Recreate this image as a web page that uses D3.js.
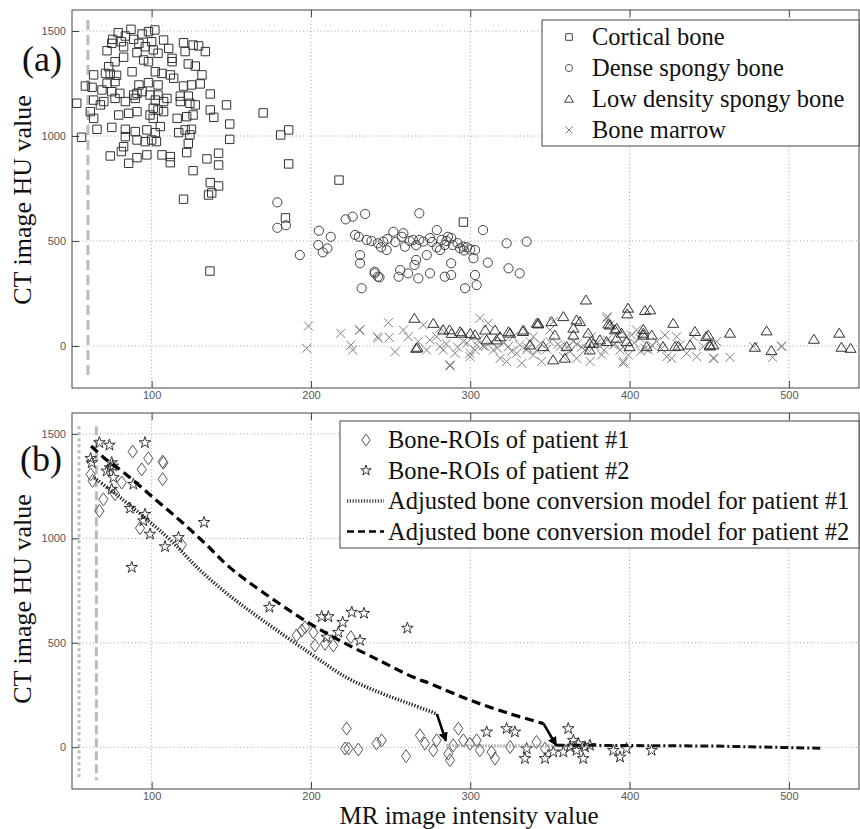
<!DOCTYPE html>
<meta charset="utf-8">
<style>
body { margin: 0; background: #fff; }
svg { display: block; background: #fff; }
.tick text { font-family: "Liberation Sans", Arial, sans-serif; font-size: 11px; fill: #555; }
.tick line { stroke: #444; }
.grid line { stroke: #999; stroke-dasharray: 1,2.5; stroke-width: 0.9; }
.frame { fill: none; stroke: #444; stroke-width: 1; }
.title { font-family: "Liberation Serif", "Times New Roman", serif; font-size: 26px; fill: #111; }
.legend text { font-family: "Liberation Serif", "Times New Roman", serif; font-size: 24.5px; fill: #111; }
</style>
<svg width="860" height="829"></svg>
<script src="https://d3js.org/d3.v7.min.js"></script>
<script>

// ---- data: [MR intensity, CT HU] ----
var cortical = [
  [79,1492],[87,1508],[102,1505],[75.5,1460],[83.5,1476],[94,1486],[98,1497],[107.5,1457],[75,1441],[81,1449],
  [88.7,1460],[92,1441],[100,1449],[120,1444],[126,1433],[129.5,1429],[133.7,1402],[72,1406],[82.4,1425],[90.8,1397],
  [96,1425],[101,1410],[104,1394],[110.7,1417],[112.8,1370],[121,1402],[77,1354],[82.4,1375],[95,1362],[98,1354],
  [112.8,1354],[123,1343],[127.4,1333],[73,1330],[87.7,1306],[102.3,1306],[106.5,1298],[111.7,1291],[113.8,1275],[131.6,1291],
  [63.6,1291],[71,1298],[74,1295],[78,1289],[58.4,1238],[62.6,1232],[72,1251],[77,1259],[92,1243],[98,1254],
  [104,1243],[120,1238],[125,1243],[130.5,1248],[68.8,1219],[75,1211],[80,1203],[88.7,1195],[90.8,1203],[94,1211],
  [99,1195],[104,1195],[109.6,1179],[118,1190],[123,1190],[136.8,1200],[53,1156],[63.6,1171],[70,1164],[77,1179],
  [83.5,1164],[89.7,1179],[102.3,1171],[107.5,1164],[118,1164],[124,1156],[127.4,1148],[147,1148],[61.5,1116],[67.8,1148],
  [79.3,1100],[85.6,1108],[90.8,1116],[101,1132],[104,1124],[107.5,1116],[122,1092],[126,1100],[136.8,1124],[139,1089],
  [63.6,1084],[99,1100],[101,1084],[116,1084],[149,1057],[65.7,1032],[75,1041],[83.5,1032],[89.7,1021],[97,1029],
  [102.3,1016],[105.4,1045],[117,1016],[121,1029],[124,1005],[125,1032],[56,994],[83.5,997],[90.8,981],[96,973],
  [100,981],[103,973],[123,965],[149,984],[82.4,949],[106.5,910],[111.7,902],[111.7,873],[74,905],[81,926],
  [90.8,897],[97,910],[122,921],[134.7,891],[142,918],[142,862],[85.6,870],[126,835],[136.8,778],[142,762],
  [135.7,719],[137.7,729],[120,699],[170,1110],[181,1005],[186,1029],[186,867],[217.6,790],[184,610],[136.6,357],
  [295.7,590]
];

var denseSpongy = [
  [178.9,684],[178.9,563],[184.3,575],[193,433],[205,549],[204.6,481],[207.4,446],[210.3,465],[212.4,520],[221.8,603],
  [226.2,616],[234,629],[230.8,433],[230.8,394],[231.8,275],[240,354],[242,330],[247.5,457],[251.7,544],[256,362],
  [255,330],[261,346],[268,632],[267.4,322],[266,410],[265,386],[272.7,433],[259,473],[258,537],[264,505],
  [270.5,497],[242,489],[245.4,497],[235,505],[227.7,529],[279,552],[274.7,514],[282,505],[288,514],[289,481],
  [293.6,465],[295.6,473],[300,460],[303,457],[302,418],[308,552],[322.8,489],[335.4,497],[311,397],[324,370],
  [331,346],[274.7,346],[284,330],[288,338],[288,394],[296.7,275],[304,290],[303,338],[281,457],[284,481],
  [240,346],[243,327],[238,500],[248,510],[253,495],[262,500],[268,505],[276,495],[285,500],[292,490],
  [298,470],[296,455],[230,520],[244,470],[257,520],[266,480],[279,470],[286,520]
];

var lowDensity = [
  [372.6,219],[399,180],[398.5,153],[409.6,169],[413,172],[427.4,108],[441,69],[463,61],[486,72],[515.7,32],
  [531.6,61],[533,-6],[538.7,-11],[478.7,-6],[489,-22],[450.4,0],[448,45],[428.5,-3],[421,-3],[408.6,61],
  [395,61],[390.8,77],[387.7,100],[366.7,124],[358.4,140],[351,116],[342.7,108],[333,69],[325,61],[316.5,29],
  [303,53],[294.6,61],[287,77],[276.8,108],[377.2,13],[375,-19],[400,-3],[410.7,-3],[352,-66],[359.4,-58],
  [364.7,85],[374,61],[264.9,132],[266,-11],[266.8,-6],[283,76],[288.3,60],[293.6,68],[300,60],[309.3,76],
  [315.5,76],[324,68],[333.3,76],[341.7,108],[318.7,44],[310.3,29],[342.7,105],[368.9,116],[364.7,52],[386.7,105],
  [391.9,84],[408.6,79],[408.6,52],[413.9,52],[449.4,52],[450.5,5],[430.6,0],[375,13],[398.2,21],[353,52],
  [360.5,-3],[381.4,29],[385.6,21],[391.9,37],[438,5],[452.6,5],[337.5,5],[345.9,-3]
];

var marrow = [
  [198.4,95],[197.3,-11],[218.7,60],[230.4,76],[225,4],[226.2,-19],[230.8,76],[248.6,111],[241.7,44],[242.3,37],
  [249.2,41],[258,76],[261.1,44],[252.8,-27],[270.5,100],[267.4,21],[274.7,29],[281,-3],[283.1,-19],[287.3,-90],
  [290.4,-35],[295.7,21],[299.8,-35],[304,5],[306.1,132],[311.3,108],[314.5,-19],[318.7,-59],[322.8,-74],[327,44],
  [332.3,-82],[335.4,-19],[339.6,-43],[305.1,29],[309.3,-3],[313.4,21],[299.8,-51],[323.9,-3],[329.1,-35],[337.5,21],
  [278.9,44],[272.6,-19],[281,84],[339.6,44],[341.7,-19],[344.8,-74],[350,21],[352.1,116],[356.3,-3],[358.4,-51],
  [362.6,-27],[366.8,-59],[372,-19],[375.2,-74],[379.3,13],[382.5,-43],[386,140],[387.7,100],[389.8,5],[394,-19],
  [396.1,-74],[399.2,-43],[401.3,52],[404.4,76],[409.7,-11],[411.8,-19],[417,21],[422.2,52],[423.3,-51],[426.4,-59],
  [431.6,5],[435.8,-35],[440,44],[442.1,-51],[446.3,-3],[453,-59],[463,-54],[477.7,-3],[489.8,-54],[495.5,-3],
  [386,29],[376.2,44],[364.7,21],[369.9,-6],[398.2,44],[406.5,37],[429.5,44],[454.7,21],[350,76],[385.6,132],
  [287.3,-95],[495.4,0],[452.5,-58],[396,-82],[285,10],[292,-5],[298,15],[303,-20],[308,0],[317,-10],
  [321,15],[326,-25],[331,5],[336,-8],[344,12],[348,-15],[355,8],[361,-5],[367,10],[373,-12],
  [378,0],[384,-20],[391,10],[396,-5],[403,15],[407,-25],[414,3],[420,-12]
];

var patient1 = [
  [88.1,1415],[97.9,1383],[93.8,1330],[106.9,1367],[107.4,1362],[106.9,1283],[81.2,1267],[61.7,1306],[62.9,1275],[69.7,1187],
  [67.2,1131],[92.7,1049],[118.9,969],[77,1211],[191,535],[194.2,558],[196.3,574],[201.5,550],[202.5,487],[208.8,495],
  [214,487],[225,527],[222.4,89],[221.4,-6],[223.5,-6],[229.7,-11],[241.2,18],[244.4,33],[259.7,-43],[268.4,57],
  [271.6,18],[276.8,-15],[286.2,-31],[287.3,-62],[292.5,89],[295.6,33],[278.9,33],[304,33],[306,-15],[313.4,-23],
  [315.5,-54],[325,1],[341.6,25],[346.9,-7],[289.3,9],[299.8,17]
];

var patient2 = [
  [67.2,1458],[73.5,1446],[95.8,1458],[61.7,1383],[62.4,1362],[74.9,1362],[75.6,1346],[73.9,1338],[71.8,1322],[76,1291],
  [88.5,1259],[74.9,1235],[86.4,1144],[95.8,1115],[94.8,1084],[99,1020],[108.4,960],[116.8,1004],[132.9,1076],[87.5,861],
  [173.9,670],[206.7,625],[210.9,625],[219.9,598],[225.6,646],[233.3,641],[217.2,550],[209.9,527],[230.8,511],[260.5,570],
  [310.3,73],[322.8,89],[328,73],[361.5,89],[335.4,-7],[334.3,-54],[346.9,-54],[352.1,-23],[364.7,33],[366.7,-15],
  [370.9,-54],[372,1],[389.8,-15],[394,-47],[398.1,-7],[413.8,-15],[375.1,9],[362.6,1],[358.4,-23],[367.8,17]
];

// adjusted conversion models
var model1Curve = [[64,1290],[79,1203],[97,1090],[112,990],[130,850],[149,725],[170,606],[199,452],[222,335],[243,262],[262,208],[279,160]];
var model1Arrow = [[279,160],[284.7,30]];
var model1Flat = [[285,8],[375,6]];
var model2Curve = [[62,1442],[70,1386],[84,1306],[101,1195],[118,1084],[134,972],[149,861],[170,741],[198,598],[218,511],[243,415],[264,336],[275,304],[300,225],[325,160],[346,113]];
var model2Arrow = [[346,113],[354,8]];
var model2Flat = [[354,10],[400,8],[450,6],[521,-5]];

var xTicks = [100, 200, 300, 400, 500];
var yTicks = [0, 500, 1000, 1500];
var legendA = ["Cortical bone", "Dense spongy bone", "Low density spongy bone", "Bone marrow"];
var legendB = ["Bone-ROIs of patient #1", "Bone-ROIs of patient #2",
  "Adjusted bone conversion model for patient #1", "Adjusted bone conversion model for patient #2"];

var svg = d3.select("svg");

var x = d3.scaleLinear().domain([50, 544]).range([72, 859]);
var yA = d3.scaleLinear().domain([-200, 1600]).range([388, 10]);
var yB = d3.scaleLinear().domain([-200, 1600]).range([789, 413]);

// marker shapes
function square(s) { return "M" + (-s) + "," + (-s) + "h" + 2 * s + "v" + 2 * s + "h" + (-2 * s) + "Z"; }
function circle(r) { return "M" + (-r) + ",0a" + r + "," + r + " 0 1,0 " + 2 * r + ",0a" + r + "," + r + " 0 1,0 " + (-2 * r) + ",0Z"; }
function triangle(s) { return "M0," + (-s) + "L" + (s * 1.1) + "," + (s * 0.8) + "L" + (-s * 1.1) + "," + (s * 0.8) + "Z"; }
function cross(s) { return "M" + (-s) + "," + (-s) + "L" + s + "," + s + "M" + (-s) + "," + s + "L" + s + "," + (-s); }
function diamond(w, h) { return "M0," + (-h) + "L" + w + ",0L0," + h + "L" + (-w) + ",0Z"; }
var star = d3.symbol().type(d3.symbolStar);

function panel(y) {
  var g = svg.append("g");
  var grid = g.append("g").attr("class", "grid");
  grid.selectAll(".gx").data(xTicks).enter().append("line")
    .attr("x1", x).attr("x2", x).attr("y1", y.range()[1]).attr("y2", y.range()[0]);
  grid.selectAll(".gy").data(yTicks).enter().append("line")
    .attr("x1", x.range()[0]).attr("x2", x.range()[1]).attr("y1", y).attr("y2", y);

  g.append("g").attr("transform", "translate(0," + y.range()[0] + ")")
    .call(d3.axisBottom(x).tickValues(xTicks).tickSize(-7).tickPadding(3).tickFormat(d3.format("d")))
    .call(function(a) { a.select(".domain").remove(); });
  g.append("g").attr("transform", "translate(0," + y.range()[1] + ")")
    .call(d3.axisTop(x).tickValues(xTicks).tickSize(-7).tickFormat(""))
    .call(function(a) { a.select(".domain").remove(); });
  g.append("g").attr("transform", "translate(" + x.range()[0] + ",0)")
    .call(d3.axisLeft(y).tickValues(yTicks).tickSize(-7).tickPadding(6).tickFormat(d3.format("d")))
    .call(function(a) { a.select(".domain").remove(); });
  g.selectAll(".tick text").attr("font-family", null).attr("font-size", null);

  g.append("rect").attr("class", "frame")
    .attr("x", x.range()[0]).attr("y", y.range()[1])
    .attr("width", x.range()[1] - x.range()[0]).attr("height", y.range()[0] - y.range()[1]);
  return g;
}

function scatter(g, y, data, d, color) {
  g.append("g").selectAll("path").data(data).enter().append("path")
    .attr("d", d)
    .attr("transform", function(p) { return "translate(" + x(p[0]) + "," + y(p[1]) + ")"; })
    .attr("fill", "none").attr("stroke", color).attr("stroke-width", 1);
}

// ---------- panel (a) ----------
var gA = panel(yA);

gA.append("line")
  .attr("x1", x(60)).attr("x2", x(60)).attr("y1", yA(1552)).attr("y2", yA(-138))
  .attr("stroke", "#bbb").attr("stroke-width", 3).attr("stroke-dasharray", "10,5");

scatter(gA, yA, marrow, cross(4.5), "#808080");
scatter(gA, yA, lowDensity, triangle(5), "#333");
scatter(gA, yA, denseSpongy, circle(4.6), "#444");
scatter(gA, yA, cortical, square(4.2), "#333");

var legA = svg.append("g").attr("class", "legend");
legA.append("rect").attr("x", 542).attr("y", 20).attr("width", 317).attr("height", 126)
  .attr("fill", "#fff").attr("stroke", "#444");
var legShapesA = [[square(3.3), "#444"], [circle(3.6), "#555"], [triangle(4), "#444"], [cross(3.5), "#777"]];
legendA.forEach(function(t, i) {
  var cy = 37 + i * 31;
  legA.append("path").attr("d", legShapesA[i][0]).attr("transform", "translate(569," + cy + ")")
    .attr("fill", "none").attr("stroke", legShapesA[i][1]);
  legA.append("text").attr("x", 592).attr("y", cy + 8).text(t);
});

svg.append("text").attr("class", "title").attr("x", 22).attr("y", 71)
  .style("font-size", "36px").text("(a)");
svg.append("text").attr("class", "title")
  .attr("transform", "translate(31,200) rotate(-90)").attr("text-anchor", "middle")
  .text("CT image HU value");

// ---------- panel (b) ----------
var gB = panel(yB);

gB.append("line")
  .attr("x1", x(54.4)).attr("x2", x(54.4)).attr("y1", yB(1537)).attr("y2", yB(-158))
  .attr("stroke", "#bbb").attr("stroke-width", 3).attr("stroke-dasharray", "3,3");
gB.append("line")
  .attr("x1", x(65.3)).attr("x2", x(65.3)).attr("y1", yB(1537)).attr("y2", yB(-158))
  .attr("stroke", "#bbb").attr("stroke-width", 3).attr("stroke-dasharray", "9,4");

var lineB = d3.line().x(function(p) { return x(p[0]); }).y(function(p) { return yB(p[1]); });
var smooth = d3.line().curve(d3.curveCatmullRom).x(function(p) { return x(p[0]); }).y(function(p) { return yB(p[1]); });

svg.append("defs").append("marker").attr("id", "head")
  .attr("viewBox", "0 0 10 10").attr("refX", 9).attr("refY", 5)
  .attr("markerWidth", 3.6).attr("markerHeight", 3.6).attr("orient", "auto")
  .append("path").attr("d", "M0,0L10,5L0,10Z").attr("fill", "#000");

scatter(gB, yB, patient1, diamond(4.6, 6.5), "#555");
scatter(gB, yB, patient2, star.size(42)(), "#333");

gB.append("path").attr("d", lineB(model1Flat)).attr("fill", "none")
  .attr("stroke", "#999").attr("stroke-width", 3).attr("stroke-dasharray", "1.2,1.8");
gB.append("path").attr("d", smooth(model1Curve)).attr("fill", "none")
  .attr("stroke", "#222").attr("stroke-width", 3.6).attr("stroke-dasharray", "1.3,1.7");
gB.append("path").attr("d", lineB(model1Arrow)).attr("fill", "none")
  .attr("stroke", "#000").attr("stroke-width", 2.6).attr("marker-end", "url(#head)");

gB.append("path").attr("d", smooth(model2Curve)).attr("fill", "none")
  .attr("stroke", "#000").attr("stroke-width", 3.2).attr("stroke-dasharray", "9,5");
gB.append("path").attr("d", lineB(model2Flat)).attr("fill", "none")
  .attr("stroke", "#111").attr("stroke-width", 3).attr("stroke-dasharray", "8,3,2,3");
gB.append("path").attr("d", lineB(model2Arrow)).attr("fill", "none")
  .attr("stroke", "#000").attr("stroke-width", 2.6).attr("marker-end", "url(#head)");

var legB = svg.append("g").attr("class", "legend");
legB.append("rect").attr("x", 340).attr("y", 421).attr("width", 519).attr("height", 127)
  .attr("fill", "#fff").attr("stroke", "#444");
legendB.forEach(function(t, i) {
  var cy = 440 + i * 30.5;
  if (i === 0) {
    legB.append("path").attr("d", diamond(4.2, 6)).attr("transform", "translate(366," + cy + ")")
      .attr("fill", "none").attr("stroke", "#555");
  } else if (i === 1) {
    legB.append("path").attr("d", star.size(34)()).attr("transform", "translate(366," + cy + ")")
      .attr("fill", "none").attr("stroke", "#333");
  } else {
    legB.append("line").attr("x1", 347).attr("x2", 384).attr("y1", cy).attr("y2", cy)
      .attr("stroke", i === 2 ? "#444" : "#000").attr("stroke-width", i === 2 ? 3.4 : 2.6)
      .attr("stroke-dasharray", i === 2 ? "1.2,1.6" : "7,4");
  }
  legB.append("text").attr("x", 388).attr("y", cy + 8).text(t);
});

svg.append("text").attr("class", "title").attr("x", 20).attr("y", 471)
  .style("font-size", "36px").text("(b)");
svg.append("text").attr("class", "title")
  .attr("transform", "translate(31,599) rotate(-90)").attr("text-anchor", "middle")
  .text("CT image HU value");
svg.append("text").attr("class", "title").attr("x", 469).attr("y", 824)
  .attr("text-anchor", "middle").style("font-size", "25px").text("MR image intensity value");

</script>
